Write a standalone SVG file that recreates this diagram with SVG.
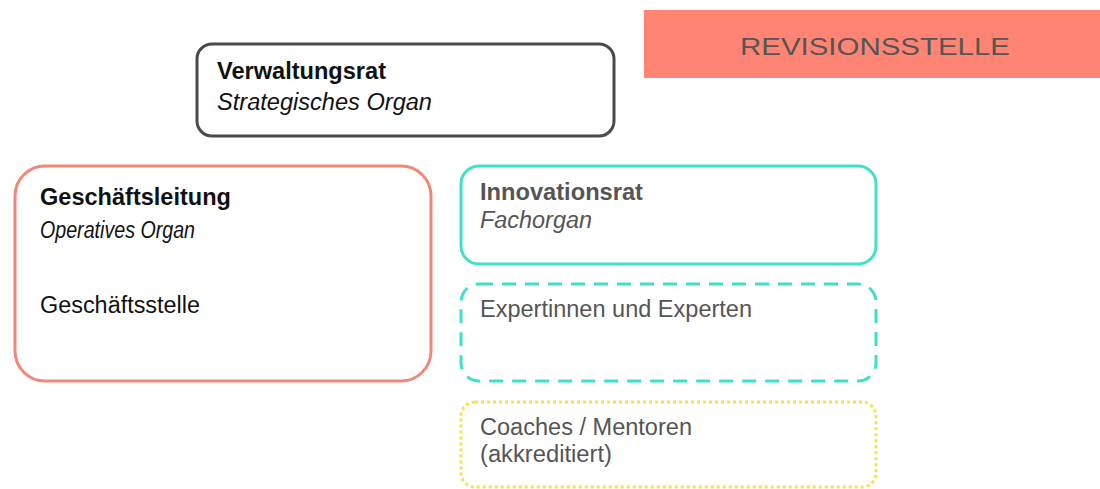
<svg xmlns="http://www.w3.org/2000/svg" width="1100" height="489" viewBox="0 0 1100 489">
  <style>
    text { font-family: "Liberation Sans", Arial, sans-serif; font-size: 23px; }
    .dark { fill: #111; }
    .grey { fill: #555; }
    .b { font-weight: bold; }
    .i { font-style: italic; }
    .box { fill: #fff; stroke-width: 3; }
  </style>
  <rect width="1100" height="489" fill="#fff"/>

  <!-- audit office banner -->
  <g id="revisionsstelle">
    <rect x="644" y="10" width="456" height="68" fill="#FF8474"/>
    <text x="740" y="55" class="grey" font-size="29.5" textLength="270" lengthAdjust="spacingAndGlyphs">REVISIONSSTELLE</text>
  </g>

  <!-- board of directors -->
  <g id="verwaltungsrat">
    <rect x="197" y="44" width="417" height="92" rx="15" class="box" stroke="#4a4a4a"/>
    <text x="217" y="79" class="dark b" textLength="169" lengthAdjust="spacingAndGlyphs">Verwaltungsrat</text>
    <text x="217" y="110" class="dark i" textLength="215" lengthAdjust="spacingAndGlyphs">Strategisches Organ</text>
  </g>

  <!-- management -->
  <g id="geschaeftsleitung">
    <rect x="15" y="166" width="416" height="215" rx="30" class="box" stroke="#F08878"/>
    <text x="40" y="205" class="dark b" textLength="191" lengthAdjust="spacingAndGlyphs">Geschäftsleitung</text>
    <text x="40" y="238" class="dark i" font-size="19.5" textLength="155" lengthAdjust="spacingAndGlyphs">Operatives Organ</text>
    <text x="40" y="313" class="dark" textLength="160" lengthAdjust="spacingAndGlyphs">Geschäftsstelle</text>
  </g>

  <!-- innovation council -->
  <g id="innovationsrat">
    <rect x="461" y="166" width="415" height="98" rx="18" class="box" stroke="#3EE0C8"/>
    <text x="480" y="200" class="grey b" textLength="163" lengthAdjust="spacingAndGlyphs">Innovationsrat</text>
    <text x="480" y="228" class="grey i" textLength="112" lengthAdjust="spacingAndGlyphs">Fachorgan</text>
  </g>

  <!-- experts pool -->
  <g id="experten">
    <rect x="461" y="284" width="415" height="97" rx="18" class="box" stroke="#3EE0C8" stroke-dasharray="14 9"/>
    <text x="480" y="317" class="grey" textLength="272" lengthAdjust="spacingAndGlyphs">Expertinnen und Experten</text>
  </g>

  <!-- accredited coaches -->
  <g id="coaches">
    <rect x="461" y="402" width="415" height="85" rx="14" class="box" stroke="#F2E44A" stroke-dasharray="3 3"/>
    <text x="480" y="435" class="grey" textLength="212" lengthAdjust="spacingAndGlyphs">Coaches / Mentoren</text>
    <text x="480" y="462" class="grey" textLength="132" lengthAdjust="spacingAndGlyphs">(akkreditiert)</text>
  </g>

  <g id="connectors"></g>
</svg>
